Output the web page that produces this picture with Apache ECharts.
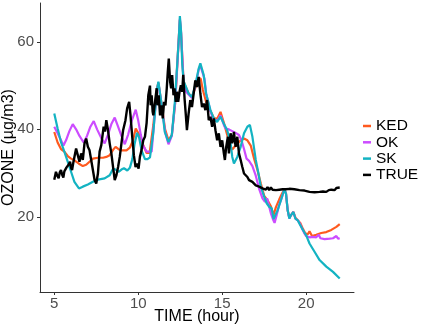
<!DOCTYPE html>
<html>
<head>
<meta charset="utf-8">
<script src="https://cdn.jsdelivr.net/npm/echarts@6/dist/echarts.min.js"></script>
<style>
  html, body { margin: 0; padding: 0; background: #fff; }
  #main { width: 425px; height: 329px; }
</style>
</head>
<body>
<div id="main"></div>
<script>
// ozone, hourly time (h) vs µg/m3
var seriesNames = ['KED', 'OK', 'SK', 'TRUE'];
var xTicks = [5, 10, 15, 20];
var yTicks = [20, 40, 60];

var kedPts = [
  [5.0,39.4],[5.2,37.0],[5.4,35.5],[5.6,34.9],[5.8,33.9],[6.0,33.3],[6.2,32.9],[6.45,32.2],[6.7,31.6],[6.9,31.9],
  [7.1,32.6],[7.3,33.3],[7.6,33.5],[7.9,33.5],[8.1,33.7],[8.3,34.1],[8.5,35.3],[8.65,36.0],[8.85,35.4],[9.0,35.2],
  [9.3,35.2],[9.5,35.8],[9.7,37.6],[9.85,40.2],[9.95,40.2],[10.1,38.5],[10.3,36.4],[10.5,34.6],[10.68,34.6],[10.9,41.0],
  [11.1,49.0],[11.2,50.7],[11.4,45.5],[11.6,40.0],[11.8,37.5],[12.0,38.7],[12.2,46.0],[12.4,60.0],[12.48,65.0],[12.55,62.0],
  [12.7,51.0],[12.85,49.5],[13.0,48.2],[13.2,47.4],[13.4,49.5],[13.6,51.8],[13.72,51.6],[13.85,49.0],[14.05,46.2],[14.3,44.2],
  [14.5,42.6],[14.7,42.4],[14.9,44.0],[15.1,41.5],[15.3,38.7],[15.5,36.0],[15.6,35.4],[15.8,36.3],[16.1,37.5],[16.3,37.9],
  [16.5,37.5],[16.7,36.3],[16.9,33.3],[17.1,30.7],[17.3,27.6],[17.5,24.8],[17.7,23.8],[17.9,22.4],[18.06,20.4],[18.2,22.2],
  [18.4,24.0],[18.55,25.2],[18.7,26.3],[18.8,25.3],[18.9,21.5],[19.0,19.8],[19.1,20.4],[19.24,21.1],[19.36,19.8],[19.5,19.2],
  [19.65,18.6],[19.8,17.3],[19.95,16.2],[20.1,16.0],[20.2,16.7],[20.35,15.6],[20.6,15.9],[20.9,16.3],[21.2,16.5],[21.5,17.0],
  [21.8,17.7],[22.0,18.3]
];
var okPts = [
  [5.0,40.6],[5.2,39.1],[5.4,37.5],[5.55,36.3],[5.7,37.5],[5.9,39.6],[6.1,41.2],[6.3,40.0],[6.5,38.5],[6.75,37.0],
  [6.95,38.5],[7.15,40.6],[7.35,41.9],[7.55,40.0],[7.8,38.0],[8.0,36.8],[8.2,38.8],[8.4,41.2],[8.6,42.7],[8.8,40.6],
  [9.0,38.5],[9.2,36.6],[9.4,38.8],[9.6,41.8],[9.85,44.5],[10.0,42.0],[10.15,38.8],[10.3,36.2],[10.5,34.9],[10.8,34.9],
  [10.98,43.2],[11.1,48.6],[11.2,50.6],[11.4,45.3],[11.6,39.4],[11.8,36.6],[12.0,38.5],[12.2,46.2],[12.42,61.0],[12.48,65.3],
  [12.55,62.2],[12.7,50.5],[12.85,48.6],[13.0,48.0],[13.2,47.2],[13.4,49.8],[13.6,53.6],[13.7,54.6],[13.8,54.2],[13.95,51.5],
  [14.05,48.0],[14.3,44.2],[14.45,42.5],[14.6,42.0],[14.75,42.2],[14.9,43.2],[15.1,41.0],[15.2,40.2],[15.4,40.0],[15.6,39.6],
  [15.8,39.2],[16.0,38.7],[16.15,37.5],[16.3,35.5],[16.45,33.3],[16.6,32.8],[16.8,31.6],[17.0,29.4],[17.2,26.4],[17.4,24.2],
  [17.55,23.4],[17.68,24.2],[17.8,22.3],[17.9,20.8],[18.05,19.2],[18.12,18.6],[18.25,20.5],[18.4,22.8],[18.55,24.4],[18.7,26.3],
  [18.8,25.3],[18.9,21.5],[19.0,19.6],[19.1,20.4],[19.24,21.1],[19.36,19.6],[19.5,19.2],[19.62,18.5],[19.76,17.3],[19.9,16.2],
  [20.0,15.6],[20.2,15.3],[20.4,15.4],[20.6,15.3],[20.75,15.9],[20.85,15.1],[21.1,14.9],[21.4,15.0],[21.6,15.1],[21.8,15.6],
  [21.9,15.0],[22.0,15.1]
];
var skPts = [
  [5.0,43.6],[5.2,40.2],[5.4,37.1],[5.6,34.9],[5.8,32.6],[6.0,30.3],[6.2,28.0],[6.47,26.5],[6.7,26.9],[7.0,27.4],
  [7.3,28.0],[7.6,28.5],[8.0,28.8],[8.3,29.5],[8.5,31.0],[8.65,30.8],[8.85,30.3],[9.0,30.8],[9.15,31.1],[9.35,30.6],
  [9.5,31.2],[9.65,33.2],[9.78,36.6],[9.93,39.2],[10.05,38.2],[10.2,35.2],[10.4,33.2],[10.55,33.2],[10.7,33.6],[10.9,39.4],
  [11.1,48.6],[11.2,50.9],[11.4,45.5],[11.58,39.4],[11.8,37.1],[12.0,38.7],[12.18,46.2],[12.42,61.0],[12.48,65.9],[12.55,62.5],
  [12.62,55.0],[12.7,51.0],[12.8,50.1],[13.0,48.2],[13.2,47.4],[13.4,50.1],[13.6,53.9],[13.7,55.1],[13.8,54.7],[13.9,52.4],
  [14.04,48.2],[14.3,44.4],[14.5,42.5],[14.7,41.7],[14.9,42.9],[15.1,41.3],[15.3,39.8],[15.5,36.8],[15.6,33.7],[15.7,32.2],
  [15.9,33.7],[16.1,36.0],[16.3,39.1],[16.5,40.6],[16.65,41.0],[16.8,38.3],[17.0,33.0],[17.16,29.9],[17.3,26.9],[17.5,24.6],
  [17.65,23.1],[17.8,22.3],[17.95,21.9],[18.06,19.5],[18.14,19.8],[18.3,21.5],[18.5,23.8],[18.7,26.3],[18.8,25.3],[18.9,21.5],
  [19.0,19.6],[19.1,20.4],[19.24,21.1],[19.36,19.6],[19.5,19.2],[19.62,18.3],[19.76,17.3],[19.9,16.4],[20.0,15.8],[20.2,13.9],
  [20.5,12.0],[20.8,10.1],[21.2,8.6],[21.6,7.4],[22.0,5.9]
];
var truePts = [
  [5.00,28.5],[5.10,30.3],[5.18,29.4],[5.26,28.8],[5.33,30.2],[5.40,30.7],[5.47,29.6],[5.54,29.0],[5.60,30.4],[5.66,30.3],
  [5.73,31.3],[5.80,31.1],[5.87,32.0],[5.94,32.6],[6.00,31.2],[6.06,30.7],[6.13,32.3],[6.20,33.7],[6.30,35.6],[6.40,34.1],
  [6.50,32.6],[6.60,34.5],[6.70,33.0],[6.80,36.8],[6.90,37.9],[7.00,36.0],[7.10,35.2],[7.20,34.9],[7.30,30.7],[7.40,28.4],
  [7.50,27.6],[7.60,29.9],[7.70,34.9],[7.80,36.4],[7.94,40.6],[8.02,39.5],[8.10,42.1],[8.20,39.8],[8.30,36.8],[8.40,34.5],
  [8.50,31.4],[8.60,28.4],[8.70,29.5],[8.80,31.4],[8.90,33.7],[9.00,36.8],[9.10,39.8],[9.24,42.1],[9.34,44.8],[9.46,46.3],
  [9.54,43.2],[9.66,37.5],[9.74,34.1],[9.84,31.4],[9.94,32.2],[10.02,31.0],[10.10,33.7],[10.20,35.3],[10.30,37.5],[10.40,38.3],
  [10.50,41.5],[10.60,47.8],[10.70,50.0],[10.74,45.5],[10.80,47.8],[10.86,44.0],[10.90,43.2],[11.00,46.3],[11.10,49.4],[11.14,45.5],
  [11.22,47.8],[11.30,43.2],[11.40,45.5],[11.46,42.5],[11.54,46.3],[11.62,45.5],[11.70,49.4],[11.76,53.1],[11.82,56.2],[11.90,50.9],
  [11.96,49.4],[12.02,52.4],[12.10,47.8],[12.16,49.4],[12.24,46.3],[12.30,48.6],[12.38,46.3],[12.46,48.6],[12.54,50.1],[12.62,48.6],
  [12.68,52.5],[12.76,47.0],[12.84,43.0],[12.90,39.8],[13.00,43.6],[13.10,46.7],[13.20,45.1],[13.30,48.2],[13.40,51.2],[13.50,49.7],
  [13.60,52.0],[13.70,48.2],[13.80,45.1],[13.90,45.9],[14.00,44.4],[14.10,46.7],[14.20,42.1],[14.30,42.9],[14.40,40.6],[14.50,42.5],
  [14.60,39.8],[14.70,37.5],[14.80,39.1],[14.90,36.0],[15.00,37.5],[15.10,34.5],[15.16,33.0],[15.24,36.0],[15.34,38.3],[15.40,34.5],
  [15.50,39.1],[15.60,36.8],[15.70,39.4],[15.80,36.0],[15.90,38.3],[16.00,34.5],[16.10,33.0],[16.20,31.4],[16.30,29.9],[16.40,30.3],
  [16.50,29.1],[16.60,28.4],[16.70,28.8],[16.80,28.0],[16.90,27.6],[17.00,27.2],[17.10,27.6],[17.20,26.9],[17.30,27.1],[17.40,26.5],
  [17.50,26.9],[17.60,26.2],[17.70,26.8],[17.80,26.1],[17.90,26.7],[18.00,26.2],[18.10,26.6],[18.20,26.1],[18.30,26.5],[18.40,26.2],
  [18.50,26.6],[18.60,26.3],[18.70,26.5],[18.80,26.3],[19.00,26.4],[19.30,26.3],[19.60,26.1],[19.90,26.0],[20.20,25.7],[20.50,25.6],
  [20.80,25.7],[21.00,25.8],[21.20,25.7],[21.35,26.1],[21.50,26.2],[21.60,26.6],[21.70,26.1],[21.80,26.6],[21.90,26.3],[22.00,26.7]
];
var lineColors = ['#FF5A1F', '#CC4CFF', '#13B3C2', '#000000'];
var lineWidths = [2.2, 2.2, 2.2, 2.4];

var chart = echarts.init(document.getElementById('main'), null, { renderer: 'canvas' });
var font = 'Liberation Sans, Arial, Helvetica, sans-serif';

function mkSeries(i, pts) {
  return {
    name: seriesNames[i],
    type: 'line',
    data: pts,
    showSymbol: false,
    symbol: 'none',
    smooth: false,
    lineStyle: { color: lineColors[i], width: lineWidths[i] },
    itemStyle: { color: lineColors[i] },
    emphasis: { disabled: true }
  };
}

var option = {
  backgroundColor: '#ffffff',
  animation: false,
  textStyle: { fontFamily: font },
  grid: { left: 40, right: 71, top: 3, bottom: 37, containLabel: false, outerBoundsMode: 'none' },
  legend: {
    orient: 'vertical',
    left: 363,
    top: 118,
    padding: 0,
    data: seriesNames,
    icon: 'rect',
    itemWidth: 8,
    itemHeight: 2.5,
    itemGap: 0.3,
    textStyle: { fontSize: 15.5, color: '#000', lineHeight: 15, fontFamily: font }
  },
  xAxis: {
    type: 'value',
    min: 4.15,
    max: 22.85,
    name: 'TIME (hour)',
    nameLocation: 'middle',
    nameGap: 17,
    nameMoveOverlap: false,
    nameTextStyle: { fontSize: 16, color: '#000', fontFamily: font },
    axisLine: { lineStyle: { color: '#333', width: 1 } },
    axisTick: { customValues: xTicks, length: 3, lineStyle: { color: '#333' } },
    axisLabel: { customValues: xTicks, color: '#4d4d4d', fontSize: 15, margin: 4, fontFamily: font },
    splitLine: { show: false }
  },
  yAxis: {
    type: 'value',
    min: 2.8,
    max: 68.9,
    name: 'OZONE (µg/m3)',
    nameLocation: 'middle',
    nameGap: 23,
    nameMoveOverlap: false,
    nameTextStyle: { fontSize: 16, color: '#000', fontFamily: font },
    axisLine: { show: true, lineStyle: { color: '#333', width: 1 } },
    axisTick: { show: true, customValues: yTicks, length: 3, lineStyle: { color: '#333' } },
    axisLabel: { customValues: yTicks, color: '#4d4d4d', fontSize: 15, margin: 6, fontFamily: font },
    splitLine: { show: false }
  },
  series: [
    mkSeries(0, kedPts),
    mkSeries(1, okPts),
    mkSeries(2, skPts),
    mkSeries(3, truePts)
  ]
};

chart.setOption(option);
</script>
</body>
</html>
